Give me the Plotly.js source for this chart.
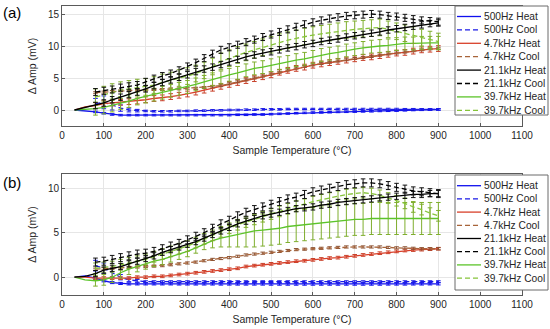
<!DOCTYPE html>
<html><head><meta charset="utf-8">
<script src="https://cdn.plot.ly/plotly-3.0.1.min.js"></script>
<style>html,body{margin:0;padding:0;background:#fff}#chart{width:550px;height:329px}</style>
</head><body><div id="chart"></div>
<script>
// Temperatures (°C)
const heatT = [30,55,80,100,120,140,160,180,200,220,240,260,280,300,320,340,360,380,400,420,440,460,480,500,520,540,560,580,600,620,640,660,680,700,720,740,760,780,800,820,840,860,880,900];
const coolT = [80,100,120,140,160,180,200,220,240,260,280,300,320,340,360,380,400,420,440,460,480,500,520,540,560,580,600,620,640,660,680,700,720,740,760,780,800,820,840,860,880,900];

const seriesNames = ['500Hz Heat','500Hz Cool','4.7kHz Heat','4.7kHz Cool','21.1kHz Heat','21.1kHz Cool','39.7kHz Heat','39.7kHz Cool'];

// Panel (a) ΔAmp (mV)
const a500Heat = [0,-0.1,-0.3,-0.5,-0.7,-0.8,-0.8,-0.8,-0.8,-0.8,-0.8,-0.8,-0.8,-0.8,-0.8,-0.8,-0.8,-0.8,-0.8,-0.75,-0.75,-0.7,-0.7,-0.65,-0.6,-0.55,-0.5,-0.45,-0.4,-0.38,-0.35,-0.3,-0.28,-0.25,-0.22,-0.2,-0.15,-0.12,-0.1,-0.05,0,0.03,0.05,0.08];
const a500Cool = [1.0,1.2,0.8,0.3,0.0,-0.1,-0.15,-0.2,-0.2,-0.2,-0.15,-0.15,-0.1,-0.1,-0.05,-0.05,0,0,0.05,0.05,0.1,0.1,0.1,0.15,0.15,0.15,0.15,0.15,0.15,0.15,0.15,0.15,0.15,0.15,0.15,0.15,0.15,0.12,0.12,0.1,0.1,0.1];
const a47Heat = [0,0.5,0.7,1.0,1.1,1.2,1.3,1.4,1.6,1.8,1.9,2.1,2.3,2.5,2.8,3.1,3.4,3.7,4.0,4.3,4.6,4.9,5.2,5.5,5.9,6.2,6.5,6.7,7.0,7.2,7.4,7.6,7.8,8.0,8.2,8.3,8.5,8.7,8.9,9.0,9.2,9.4,9.5,9.6];
const a47Cool = [2.7,2.8,2.9,3.0,3.0,3.1,3.1,3.2,3.2,3.3,3.3,3.4,3.4,3.5,3.6,3.8,4.1,4.4,4.7,5.0,5.3,5.6,5.9,6.25,6.55,6.8,7.05,7.25,7.45,7.65,7.85,8.05,8.2,8.35,8.55,8.75,8.9,9.05,9.25,9.4,9.55,9.65];
const a211Heat = [0,0.4,0.7,1.1,1.6,2.0,2.4,2.8,3.3,3.8,4.3,4.7,5.1,5.5,6.0,6.4,6.7,7.1,7.5,7.9,8.3,8.6,8.9,9.1,9.4,9.7,9.9,10.2,10.4,10.7,10.9,11.1,11.4,11.6,11.8,12.0,12.2,12.5,12.7,12.9,13.1,13.3,13.5,13.6];
const a211Cool = [2.8,3.0,3.2,3.5,3.7,3.9,4.4,4.9,5.3,5.7,6.2,6.8,7.4,8.1,8.8,9.4,9.8,10.2,10.6,11.0,11.4,11.8,12.2,12.6,13.0,13.4,13.7,14.0,14.3,14.5,14.7,14.8,14.9,15.0,14.9,14.7,14.6,14.4,14.2,14.0,13.9,13.8];
const a397Heat = [0,0.1,0.2,0.4,0.7,1.1,1.4,1.8,2.1,2.4,2.7,3.0,3.3,3.6,4.0,4.4,4.8,5.1,5.5,5.8,6.2,6.5,6.7,7.0,7.3,7.5,7.8,8.0,8.3,8.6,8.8,9.0,9.3,9.5,9.7,9.9,10.0,10.1,10.3,10.4,10.4,10.5,10.5,10.5];
const a397Cool = [2.0,2.4,2.8,3.1,3.3,3.5,3.6,3.9,4.3,4.6,5.0,5.3,5.7,6.2,6.8,7.6,8.1,8.6,9.0,9.4,9.8,10.2,10.6,10.9,11.2,11.5,11.7,11.9,12.1,12.3,12.5,12.6,12.7,12.8,12.9,12.6,12.3,12.0,11.7,11.3,11.0,10.7];

// Panel (a) error bars (mV)
const a500HeatErr = 0.12;
const a500CoolErr = [0.8,1.0,0.8,0.5,0.3,0.2, 0.12,0.12,0.12,0.12,0.12,0.12, 0.12,0.12,0.12,0.12,0.12,0.12, 0.12,0.12,0.12,0.12,0.12,0.12, 0.12,0.12,0.12,0.12,0.12,0.12, 0.12,0.12,0.12,0.12,0.12,0.12, 0.12,0.12,0.12,0.12,0.12,0.12];
const a47HeatErr = 0.45, a47CoolErr = 0.15;
const a211HeatErr = 0.5, a211CoolErr = 0.55;
const a397HeatErr = 1.0, a397CoolErr = 1.3;

// Panel (b) ΔAmp (mV)
const b500Heat = [0,0.15,-0.1,-0.4,-0.6,-0.7,-0.75,-0.75,-0.75,-0.75,-0.75,-0.75,-0.76,-0.76,-0.76,-0.76,-0.76,-0.77,-0.77,-0.77,-0.77,-0.77,-0.77,-0.78,-0.78,-0.78,-0.78,-0.78,-0.78,-0.78,-0.78,-0.78,-0.78,-0.78,-0.78,-0.78,-0.78,-0.77,-0.77,-0.77,-0.76,-0.76,-0.75,-0.75];
const b500Cool = [1.3,1.0,0.5,0.0,-0.3,-0.4,-0.5,-0.5,-0.5,-0.5,-0.5,-0.5,-0.5,-0.5,-0.5,-0.5,-0.5,-0.5,-0.5,-0.5,-0.5,-0.5,-0.5,-0.5,-0.5,-0.5,-0.5,-0.5,-0.5,-0.5,-0.5,-0.5,-0.5,-0.5,-0.5,-0.5,-0.5,-0.5,-0.5,-0.5,-0.5,-0.5];
const b47Heat = [0,0,-0.1,-0.1,-0.1,-0.1,-0.1,0,0,0.1,0.1,0.2,0.3,0.4,0.5,0.6,0.7,0.8,0.9,1.0,1.2,1.3,1.4,1.5,1.6,1.7,1.8,1.85,1.95,2.05,2.15,2.2,2.3,2.4,2.5,2.6,2.7,2.8,2.9,3.0,3.05,3.1,3.15,3.2];
const b47Cool = [0.9,0.95,1.0,1.05,1.1,1.15,1.2,1.25,1.3,1.4,1.5,1.6,1.7,1.85,2.0,2.1,2.2,2.35,2.5,2.6,2.7,2.8,2.9,3.0,3.1,3.15,3.2,3.25,3.3,3.35,3.4,3.4,3.4,3.4,3.4,3.35,3.3,3.3,3.25,3.2,3.2,3.2];
const b211Heat = [0,0.1,0.4,0.8,1.0,1.2,1.5,1.8,2.1,2.4,2.8,3.1,3.4,3.7,4.0,4.4,4.8,5.2,5.6,6.0,6.3,6.6,6.9,7.1,7.3,7.5,7.7,7.8,7.9,8.1,8.2,8.4,8.5,8.6,8.7,8.8,8.9,9.0,9.1,9.2,9.3,9.3,9.4,9.4];
const b211Cool = [1.7,1.8,2.0,2.2,2.4,2.6,2.7,2.9,3.2,3.5,3.8,4.2,4.6,5.0,5.5,6.0,6.4,6.9,7.3,7.6,7.9,8.2,8.5,8.8,9.0,9.3,9.6,9.8,10.0,10.2,10.4,10.5,10.6,10.6,10.5,10.3,10.1,9.9,9.7,9.6,9.5,9.4];
const b397Heat = [0,-0.3,-0.4,-0.3,0.0,0.5,0.9,1.2,1.5,1.8,2.0,2.3,2.6,2.9,3.3,3.7,4.1,4.4,4.6,4.8,5.0,5.2,5.3,5.4,5.5,5.7,5.8,5.9,6.0,6.1,6.2,6.3,6.4,6.5,6.5,6.6,6.6,6.6,6.6,6.6,6.6,6.6,6.6,6.6];
const b397Cool = [1.0,1.1,1.2,1.4,1.6,1.8,2.0,2.3,2.6,2.9,3.2,3.5,3.9,4.3,4.7,5.1,5.5,5.9,6.2,6.5,6.8,7.1,7.4,7.7,8.0,8.2,8.5,8.7,8.9,9.1,9.3,9.4,9.5,9.4,9.2,8.9,8.6,8.3,7.9,7.6,7.2,6.9];

// Panel (b) error bars (mV)
const b500HeatErr = 0.12;
const b500CoolErr = [0.6,0.6,0.5,0.3,0.2,0.15, 0.1,0.1,0.1,0.1,0.1,0.1, 0.1,0.1,0.1,0.1,0.1,0.1, 0.1,0.1,0.1,0.1,0.1,0.1, 0.1,0.1,0.1,0.1,0.1,0.1, 0.1,0.1,0.1,0.1,0.1,0.1, 0.1,0.1,0.1,0.1,0.1,0.1];
const b47HeatErr = 0.15, b47CoolErr = 0.12;
const b211HeatErr = 0.35, b211CoolErr = 0.45;
const b397HeatErr = [0.6,0.6,0.6,0.6,0.6,0.6,0.6,0.6,0.6,0.6,0.6,0.6,0.6,0.6, 0.8,1.0,1.2,1.4,1.6, 1.8,1.8,1.8,1.8,1.8,1.8,1.8,1.8,1.8,1.8,1.8,1.8,1.8,1.8,1.8,1.8,1.8,1.8,1.8,1.8,1.8,1.8,1.8];
const b397CoolErr = 0.6;

// styles
const colors = ['#1010ee','#1a1ae6','#d8402a','#a8643a','#000000','#000000','#5cc42a','#86c43a'];
const errColors = ['#1010ee','#1a1ae6','#c8402a','#8a5030','#111111','#111111','#7fae2e','#7fae2e'];
const dashes = ['solid','5px,3px','solid','5px,3px','solid','5px,3px','solid','5px,3px'];

function heatErr(e){ // heat runs start at 30 °C; no bars before 80 °C
  const arr = Array.isArray(e) ? e : coolT.map(() => e);
  return [NaN, NaN].concat(arr);
}
function coolErr(e){ return Array.isArray(e) ? e : coolT.map(() => e); }

function tr(idx, x, y, err, xa, ya){
  return {type:'scatter', mode:'lines', x:x, y:y, name:seriesNames[idx], showlegend:false,
    line:{color:colors[idx], width:1.3, dash:dashes[idx]},
    error_y:{type:'data', array:err, visible:true, color:errColors[idx], thickness:1, width:2.3},
    xaxis:xa, yaxis:ya, hoverinfo:'skip'};
}

const data = [
  tr(0, heatT, a500Heat, heatErr(a500HeatErr), 'x','y'),
  tr(1, coolT, a500Cool, coolErr(a500CoolErr), 'x','y'),
  tr(2, heatT, a47Heat, heatErr(a47HeatErr), 'x','y'),
  tr(3, coolT, a47Cool, coolErr(a47CoolErr), 'x','y'),
  tr(6, heatT, a397Heat, heatErr(a397HeatErr), 'x','y'),
  tr(7, coolT, a397Cool, coolErr(a397CoolErr), 'x','y'),
  tr(4, heatT, a211Heat, heatErr(a211HeatErr), 'x','y'),
  tr(5, coolT, a211Cool, coolErr(a211CoolErr), 'x','y'),
  tr(0, heatT, b500Heat, heatErr(b500HeatErr), 'x2','y2'),
  tr(1, coolT, b500Cool, coolErr(b500CoolErr), 'x2','y2'),
  tr(2, heatT, b47Heat, heatErr(b47HeatErr), 'x2','y2'),
  tr(3, coolT, b47Cool, coolErr(b47CoolErr), 'x2','y2'),
  tr(6, heatT, b397Heat, heatErr(b397HeatErr), 'x2','y2'),
  tr(7, coolT, b397Cool, coolErr(b397CoolErr), 'x2','y2'),
  tr(4, heatT, b211Heat, heatErr(b211HeatErr), 'x2','y2'),
  tr(5, coolT, b211Cool, coolErr(b211CoolErr), 'x2','y2')
];

const W = 550, H = 329;
const px = v => v / W, py = v => 1 - v / H;
const axColor = '#5a5a5a', txt = '#262626', grid = '#e6e6e6';
const xTicks = [0,100,200,300,400,500,600,700,800,900,1000,1100];

function xax(anchor){
  return {domain:[px(62), px(522)], range:[0,1100], tickvals:xTicks, anchor:anchor,
    showgrid:true, gridcolor:grid, zeroline:false, showline:true, mirror:true, linecolor:axColor, linewidth:1,
    ticks:'inside', ticklen:3, tickcolor:axColor, tickfont:{size:10, color:txt},
    title:{text:'Sample Temperature (°C)', font:{size:10.5, color:txt}, standoff:6}};
}
function yax(anchor, dom, rng, tv){
  return {domain:dom, range:rng, tickvals:tv, anchor:anchor,
    showgrid:true, gridcolor:grid, zeroline:false, showline:true, mirror:true, linecolor:axColor, linewidth:1,
    ticks:'inside', ticklen:3, tickcolor:axColor, tickfont:{size:10, color:txt},
    title:{text:'Δ Amp (mV)', font:{size:10.5, color:txt}, standoff:9}};
}

// hand-built legends (MATLAB-style compact rows)
const shapes = [], annotations = [];
function legend(top, bottom, firstRow, rowGap){
  shapes.push({type:'rect', xref:'paper', yref:'paper', x0:px(455), x1:px(548), y0:py(bottom), y1:py(top),
    fillcolor:'#ffffff', line:{color:'#6a6a6a', width:1}, layer:'above'});
  seriesNames.forEach((nm, i) => {
    const y = firstRow + i * rowGap;
    shapes.push({type:'line', xref:'paper', yref:'paper', x0:px(457), x1:px(481), y0:py(y), y1:py(y),
      line:{color:colors[i], width:1.3, dash:dashes[i]}, layer:'above'});
    annotations.push({xref:'paper', yref:'paper', x:px(481.5), y:py(y), xanchor:'left', yanchor:'middle',
      text:nm, showarrow:false, font:{size:10.2, color:txt}});
  });
}
legend(6, 115, 16.5, 13.4);
legend(175, 290, 185.7, 13.2);

annotations.push({xref:'paper', yref:'paper', x:px(1), y:py(12), xanchor:'left', yanchor:'middle', text:'(a)', showarrow:false, font:{size:15, color:'#000'}});
annotations.push({xref:'paper', yref:'paper', x:px(1), y:py(182.5), xanchor:'left', yanchor:'middle', text:'(b)', showarrow:false, font:{size:15, color:'#000'}});

const layout = {
  width:W, height:H, margin:{l:0, r:0, t:0, b:0}, paper_bgcolor:'#ffffff', plot_bgcolor:'#ffffff',
  font:{family:'"Liberation Sans", Arial, sans-serif', size:10, color:txt},
  showlegend:false,
  xaxis: xax('y'),
  yaxis: yax('x', [py(126), py(6)], [-2.5, 16.25], [0,5,10,15]),
  xaxis2: xax('y2'),
  yaxis2: yax('x2', [py(295), py(174)], [-2, 11.6], [0,5,10]),
  shapes: shapes, annotations: annotations
};

Plotly.newPlot('chart', data, layout, {staticPlot:true, displayModeBar:false});
</script>
</body></html>
